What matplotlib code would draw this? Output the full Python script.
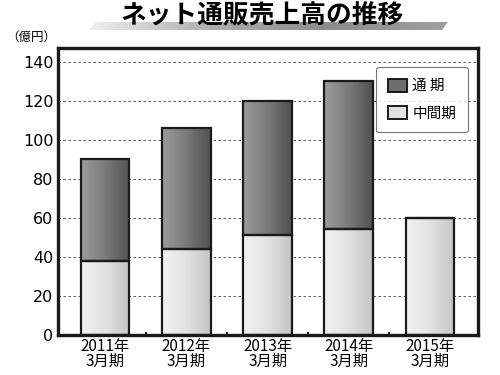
import numpy as np
import matplotlib
matplotlib.use("Agg")
import matplotlib.pyplot as plt
from matplotlib.colors import LinearSegmentedColormap
from matplotlib.patches import Patch, Polygon

plt.rcParams['font.family'] = ['Noto Sans CJK JP', 'DejaVu Sans']

# data (億円)
years = ['2011年\n3月期', '2012年\n3月期', '2013年\n3月期', '2014年\n3月期', '2015年\n3月期']
half_year = [38, 44, 51, 54, 60]          # 中間期
full_rest = [52, 62, 69, 76, 0]           # 通期 - 中間期
yticks = [0, 20, 40, 60, 80, 100, 120, 140]

dark_cmap = LinearSegmentedColormap.from_list('dk', ['#9c9c9c', '#7a7a7a', '#505050'])
light_cmap = LinearSegmentedColormap.from_list('lt', ['#f2f2f2', '#e2e2e2', '#c4c4c4'])
grad = np.linspace(0, 1, 256).reshape(1, -1)

fig = plt.figure(figsize=(5, 3.75), dpi=100)
ax = fig.add_axes([0.115, 0.107, 0.841, 0.765])

x = np.arange(len(years))
b1 = ax.bar(x, half_year, width=0.6, facecolor='none', edgecolor='#1a1a1a', linewidth=1.6, zorder=3)
b2 = ax.bar(x, full_rest, width=0.6, bottom=half_year, facecolor='none', edgecolor='#1a1a1a',
            linewidth=1.6, zorder=3)

# gradient fills clipped to each bar
for bars, cmap in [(b1, light_cmap), (b2, dark_cmap)]:
    for p in bars:
        if p.get_height() <= 0:
            continue
        x0, y0 = p.get_x(), p.get_y()
        im = ax.imshow(grad, cmap=cmap, aspect='auto', zorder=2,
                       extent=[x0, x0 + p.get_width(), y0, y0 + p.get_height()])
        im.set_clip_path(p)

ax.set_xlim(-0.585, 4.59)
ax.set_ylim(0, 147)
ax.set_yticks(yticks)
ax.set_xticks(x)
ax.set_xticklabels(years, fontsize=11, linespacing=0.9)
ax.set_xticks([0.5, 1.5, 2.5, 3.5], minor=True)
ax.tick_params(axis='x', which='major', length=0, pad=2)
ax.tick_params(axis='x', which='minor', length=2.5, width=1.5, direction='in', color='#1a1a1a')
ax.tick_params(axis='y', length=0, pad=3, labelsize=11.5)
for lab in ax.get_yticklabels():
    lab.set_family(['DejaVu Sans'])
ax.grid(axis='y', linestyle=(0, (3, 3)), color='#444444', linewidth=0.6, zorder=0)
for s in ax.spines.values():
    s.set_linewidth(2.4)
    s.set_color('#1a1a1a')

handles = [Patch(facecolor='#6e6e6e', edgecolor='#1a1a1a', linewidth=1.4, label='通 期'),
           Patch(facecolor='#e2e2e2', edgecolor='#1a1a1a', linewidth=1.4, label='中間期')]
leg = ax.legend(handles=handles, loc='upper right', bbox_to_anchor=(0.976, 0.934), borderaxespad=0,
                fontsize=10.5, frameon=True, fancybox=True, edgecolor='#555555', handlelength=1.3,
                handleheight=1.0, handletextpad=0.4, labelspacing=0.9, borderpad=0.8)
leg.get_frame().set_linewidth(0.8)

fig.text(0.012, 0.9, '（億円）', fontsize=9, ha='left', va='center')

# title with slanted gradient underline
deco = fig.add_axes([0, 0, 1, 1], zorder=-1)
deco.set_xlim(0, 500)
deco.set_ylim(375, 0)
deco.axis('off')
band = Polygon([[88, 30], [96, 22], [448, 22], [442, 30]], closed=True, facecolor='none', edgecolor='none')
deco.add_patch(band)
band_cmap = LinearSegmentedColormap.from_list('bd', ['#f0f0f0', '#b0b0b0', '#8c8c8c', '#a0a0a0'])
im = deco.imshow(grad, cmap=band_cmap, aspect='auto', extent=[88, 448, 30, 22])
im.set_clip_path(band)
fig.text(0.525, 0.958, 'ネット通販売上高の推移', fontsize=18.5, fontweight='bold', ha='center', va='center')

fig.savefig('out.png', dpi=100)
